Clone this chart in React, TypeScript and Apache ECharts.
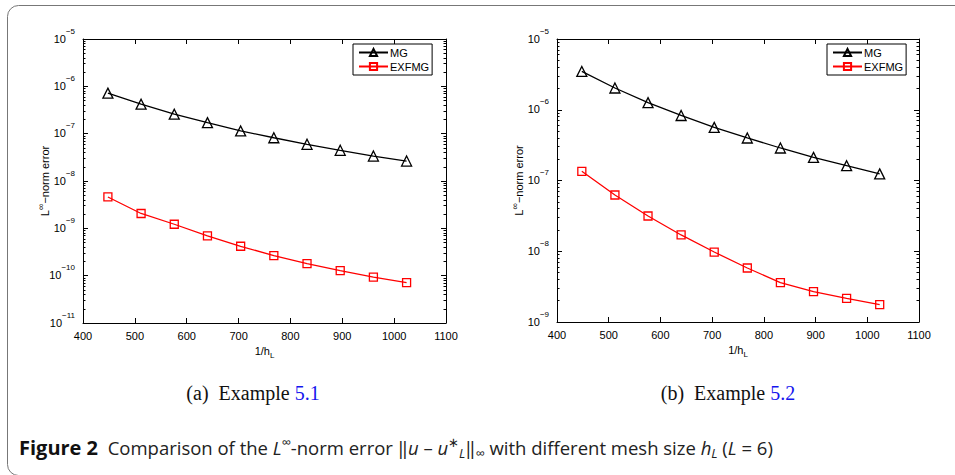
import React, { useEffect, useRef } from "react";
import * as echarts from "echarts";

// 1/h_L values
const xValues = [448, 512, 576, 640, 704, 768, 832, 896, 960, 1024];
// (a) Example 5.1
const mgA = [7.2e-7, 4.2e-7, 2.58e-7, 1.71e-7, 1.14e-7, 8.2e-8, 5.96e-8, 4.45e-8, 3.37e-8, 2.64e-8];
const exA = [4.6e-9, 2.06e-9, 1.22e-9, 6.9e-10, 4.18e-10, 2.65e-10, 1.8e-10, 1.28e-10, 9.3e-11, 7.1e-11];
// (b) Example 5.2
const mgB = [3.48e-6, 2.03e-6, 1.26e-6, 8.3e-7, 5.63e-7, 3.99e-7, 2.88e-7, 2.12e-7, 1.62e-7, 1.24e-7];
const exB = [1.35e-7, 6.24e-8, 3.15e-8, 1.7e-8, 9.75e-9, 5.8e-9, 3.6e-9, 2.68e-9, 2.16e-9, 1.76e-9];

const xMin = 400;
const xMax = 1100;
const xStep = 100;
const yExpRangeA = [-11, -5];
const yExpRangeB = [-9, -5];
const seriesNames = ["MG", "EXFMG"];
const subCaptions = [
  { label: "(a)  Example ", ref: "5.1" },
  { label: "(b)  Example ", ref: "5.2" },
];

const SANS = "'Liberation Sans', Arial, Helvetica, sans-serif";

function minorTicks(lo: number, hi: number) {
  const out: number[] = [];
  for (let n = lo; n < hi; n++) {
    for (let k = 2; k <= 9; k++) out.push(n + Math.log10(k));
  }
  return out;
}

const labelRich = {
  b: { fontSize: 11, fontFamily: SANS, color: "#000", lineHeight: 17, verticalAlign: "bottom" },
  s: { fontSize: 8, fontFamily: SANS, color: "#000", verticalAlign: "top" },
};

export default function App() {
  const ref = useRef<HTMLDivElement>(null);
  useEffect(() => {
    if (!ref.current) return;
    const chart = echarts.init(ref.current, undefined, { renderer: "svg" });

    const grids = [
      { left: 83, top: 39, width: 363, height: 284, range: yExpRangeA, mg: mgA, ex: exA, legendLeft: 353 },
      { left: 557, top: 39, width: 362, height: 283, range: yExpRangeB, mg: mgB, ex: exB, legendLeft: 827 },
    ];

    const xAxes: any[] = [];
    const yAxes: any[] = [];
    const series: any[] = [];
    const legends: any[] = [];

    grids.forEach((g, gi) => {
      const baseX = {
        type: "value",
        gridIndex: gi,
        min: xMin,
        max: xMax,
        interval: xStep,
        splitLine: { show: false },
        axisLine: { show: true, onZero: false, lineStyle: { color: "#000", width: 1 } },
        axisTick: { show: true, inside: true, length: 5, lineStyle: { color: "#000" } },
      };
      xAxes.push({
        ...baseX,
        position: "bottom",
        axisLabel: {
          show: true,
          fontSize: 11,
          fontFamily: SANS,
          color: "#000",
          margin: 7,
          formatter: (v: number) => String(Math.round(v)),
        },
        name: "{a|1/h}{s|L}",
        nameLocation: "middle",
        nameGap: 18,
        nameTextStyle: {
          rich: {
            a: { fontSize: 11, fontFamily: SANS, color: "#000", lineHeight: 14, verticalAlign: "top" },
            s: { fontSize: 8, fontFamily: SANS, color: "#000", verticalAlign: "bottom" },
          },
        },
      });
      xAxes.push({ ...baseX, position: "top", axisLabel: { show: false } });

      const [lo, hi] = g.range;
      const baseY = {
        type: "value",
        gridIndex: gi,
        min: lo,
        max: hi,
        interval: 1,
        splitLine: { show: false },
      };
      const firstY = yAxes.length;
      yAxes.push({
        ...baseY,
        position: "left",
        axisLine: { show: true, onZero: false, lineStyle: { color: "#000", width: 1 } },
        axisTick: { show: true, inside: true, length: 5, lineStyle: { color: "#000" } },
        axisLabel: {
          show: true,
          margin: 8,
          fontSize: 11,
          fontFamily: SANS,
          color: "#000",
          padding: [0, 0, 7, 0],
          formatter: (v: number) => `{b|10}{s|−${Math.abs(Math.round(v))}}`,
          rich: labelRich,
        },
        name: "{b|L}{s|∞}{b|−norm error}",
        nameLocation: "middle",
        nameRotate: 90,
        nameGap: 33,
        nameMoveOverlap: false,
        nameTextStyle: {
          rich: {
            b: { fontSize: 11, fontFamily: SANS, color: "#000", lineHeight: 14, verticalAlign: "bottom" },
            s: { fontSize: 9, fontFamily: SANS, color: "#000", verticalAlign: "top" },
          },
        },
      });
      yAxes.push({
        ...baseY,
        position: "right",
        axisLine: { show: true, onZero: false, lineStyle: { color: "#000", width: 1 } },
        axisTick: { show: true, inside: true, length: 5, lineStyle: { color: "#000" } },
        axisLabel: { show: false },
      });
      const minors = minorTicks(lo, hi);
      ["left", "right"].forEach((pos) => {
        yAxes.push({
          ...baseY,
          position: pos,
          axisLine: { show: false },
          axisTick: { show: true, inside: true, length: 2.5, customValues: minors, lineStyle: { color: "#000" } },
          axisLabel: { show: false },
        });
      });

      series.push({
        type: "line",
        name: seriesNames[0],
        xAxisIndex: gi * 2,
        yAxisIndex: firstY,
        data: xValues.map((x, i) => [x, Math.log10(g.mg[i])]),
        symbol: "triangle",
        symbolSize: 10,
        showSymbol: true,
        lineStyle: { color: "#000", width: 1.3 },
        itemStyle: { color: "rgba(255,255,255,0)", borderColor: "#000", borderWidth: 1.3 },
        z: 3,
      });
      series.push({
        type: "line",
        name: seriesNames[1],
        xAxisIndex: gi * 2,
        yAxisIndex: firstY,
        data: xValues.map((x, i) => [x, Math.log10(g.ex[i])]),
        symbol: "rect",
        symbolSize: 8,
        showSymbol: true,
        lineStyle: { color: "#ff0000", width: 1.3 },
        itemStyle: { color: "rgba(255,255,255,0)", borderColor: "#ff0000", borderWidth: 1.3 },
        z: 3,
      });

      legends.push({
        show: true,
        left: g.legendLeft,
        top: 44,
        orient: "vertical",
        data: seriesNames,
        itemWidth: 29,
        itemHeight: 9,
        itemGap: 3,
        padding: [3, 3, 3, 5],
        borderColor: "#000",
        borderWidth: 1,
        backgroundColor: "#fff",
        selectedMode: false,
        textStyle: { fontSize: 11, fontFamily: SANS, color: "#000", padding: [0, 0, 0, -3] },
      });
    });

    const graphics: any[] = [
      {
        type: "rect",
        shape: { x: 7.5, y: 5.5, width: 980, height: 470, r: 11 },
        style: { fill: "none", stroke: "#777", lineWidth: 1 },
        silent: true,
      },
    ];
    const capX = [253, 728];
    subCaptions.forEach((c, i) => {
      graphics.push({
        type: "text",
        x: capX[i],
        y: 393,
        style: {
          text: `{n|${c.label}}{l|${c.ref}}`,
          align: "center",
          verticalAlign: "middle",
          rich: {
            n: { fontSize: 20, fontFamily: "'Liberation Serif', 'Times New Roman', serif", fill: "#111" },
            l: { fontSize: 20, fontFamily: "'Liberation Serif', 'Times New Roman', serif", fill: "#1515ee" },
          },
        },
      });
    });
    const CAP = "'Open Sans', 'Noto Sans', sans-serif";
    graphics.push({
      type: "text",
      x: 19,
      y: 447,
      style: {
        text:
          "{fb|Figure 2}{r|  Comparison of the }{i|L}{sup|∞}{r|-norm error ‖}{i|u}{r| – }{i|u}{sup|∗}{sub|L}{r|‖}{sub|∞}{r| with different mesh size }{i|h}{sub|L}{r| (}{i|L}{r| = 6)}",
        align: "left",
        verticalAlign: "middle",
        rich: {
          fb: { fontSize: 20, fontWeight: "bold", fontFamily: CAP, fill: "#111", lineHeight: 24, verticalAlign: "middle" },
          r: { fontSize: 18.5, fontFamily: CAP, fill: "#222", lineHeight: 24, verticalAlign: "middle" },
          i: { fontSize: 18.5, fontStyle: "italic", fontFamily: CAP, fill: "#222", lineHeight: 24, verticalAlign: "middle" },
          sup: { fontSize: 13, fontFamily: CAP, fill: "#222", verticalAlign: "top" },
          sub: { fontSize: 13, fontStyle: "italic", fontFamily: CAP, fill: "#222", verticalAlign: "bottom" },
        },
      },
    });

    chart.setOption({
      animation: false,
      backgroundColor: "#fff",
      grid: grids.map((g) => ({ left: g.left, top: g.top, width: g.width, height: g.height, containLabel: false })),
      xAxis: xAxes,
      yAxis: yAxes,
      legend: legends,
      series,
      graphic: graphics,
    });
    return () => chart.dispose();
  }, []);
  return <div ref={ref} style={{ position: "absolute", left: 0, top: 0, width: 955, height: 475 }} />;
}
